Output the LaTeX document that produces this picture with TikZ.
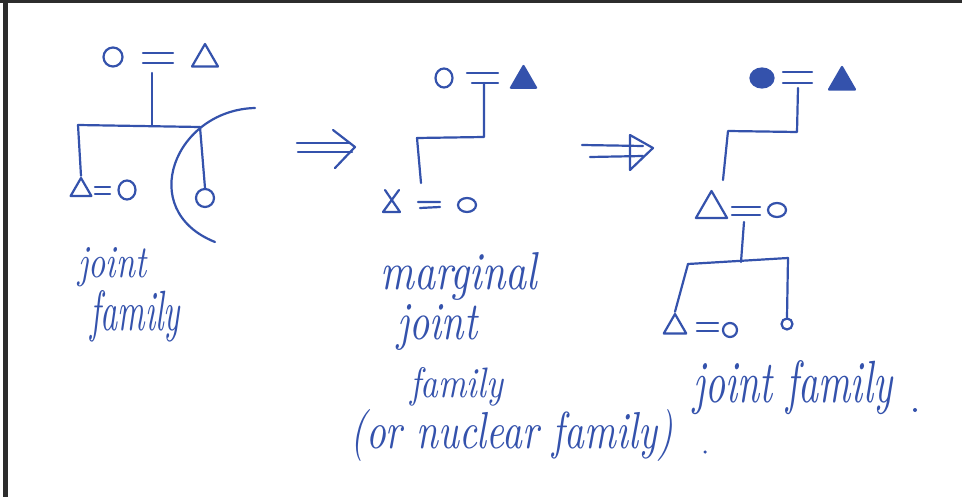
\documentclass[tikz,border=0pt]{standalone}
\usepackage{graphicx}
\usetikzlibrary{shapes.geometric}
\definecolor{pen}{RGB}{52,82,172}
\definecolor{frame}{RGB}{45,45,45}
\newcommand{\handtext}[3]{\resizebox{#1pt}{#2pt}{\itshape #3}}
\begin{document}
\begin{tikzpicture}[x=1pt,y=-1pt,
  ink/.style={draw=pen, line width=2.2pt, line cap=round, line join=round},
  circ/.style={ellipse, draw=pen, line width=2.2pt, inner sep=0pt, minimum width=#1, minimum height=#1},
  tri/.style={regular polygon, regular polygon sides=3, draw=pen, line width=2.2pt, line join=round, inner sep=0pt, minimum size=#1},
  label/.style={text=pen, inner sep=0pt, anchor=base west}]
\useasboundingbox (0,0) rectangle (962,497);
\fill[white] (0,0) rectangle (962,497);
\fill[frame] (0,0) rectangle (962,3);
\fill[frame] (3,0) rectangle (8,497);

% ---------- left: joint family ----------
\node[circ=19pt] (lc) at (113,57) {};
\node[tri=30pt] (lt) at (205,59) {};
\draw[ink] (143,53) -- (173,53) (143,63) -- (173,63);
\coordinate (lu) at (152,73);
\coordinate (lj) at (152,125);
\coordinate (ll) at (78,125);
\coordinate (lr) at (200,127);
\draw[ink] (lu) -- (lj);
\draw[ink] (ll) -- (lr);
\node[tri=24pt] (lbt) at (81,190) {};
\draw[ink] (95,187) -- (110,187) (95,194) -- (110,194);
\node[circ=17pt, minimum height=19pt] (lbc) at (127,190) {};
\node[circ=18pt] (lch) at (205,198) {};
\draw[ink] (ll) -- (lbt.north);
\draw[ink] (lr) -- (lch.north);
\coordinate (arcA) at (255,108);
\coordinate (arcB) at (215,242);
\draw[ink] (arcA) .. controls (175,110) and (135,210) .. (arcB);

\node[label] (lw1) at (78,278) {\handtext{68}{30}{joint}};
\node[label] (lw2) at (90,331) {\handtext{90}{40}{family}};

% ---------- arrow 1 ----------
\coordinate (a1s) at (297,143);
\coordinate (a1e) at (350,143);
\coordinate (a1s2) at (298,152);
\coordinate (a1e2) at (352,152);
\draw[ink] (a1s) -- (a1e) (a1s2) -- (a1e2);
\coordinate (a1t) at (333,130);
\coordinate (a1p) at (355,147);
\coordinate (a1b) at (335,168);
\draw[ink] (a1t) -- (a1p) -- (a1b);

% ---------- middle: marginal joint family ----------
\node[circ=17pt, minimum height=19pt] (mc) at (444,78) {};
\draw[ink] (467,73) -- (498,73) (472,83) -- (498,83);
\node[tri=29pt, fill=pen] (mt) at (523.5,80.5) {};
\coordinate (mu) at (484,83);
\coordinate (mj) at (484,137);
\coordinate (ml) at (417,138);
\coordinate (md) at (421,183);
\draw[ink] (mu) -- (mj) -- (ml) -- (md);
\coordinate (mx1) at (383,212);
\coordinate (mx2) at (400,212);
\coordinate (mx3) at (399,190);
\coordinate (mx4) at (385,190);
\draw[ink] (mx3) -- (mx1) -- (mx2) -- (mx4);
\draw[ink] (418,202) -- (440,202) (420,208) -- (440,207);
\node[circ=18pt, minimum height=14pt] (mbc) at (467,205) {};

\node[label] (mw1) at (380,290) {\handtext{157}{37}{marginal}};
\node[label] (mw2) at (397,340) {\handtext{80}{35}{joint}};
\node[label] (mw3) at (410,397) {\handtext{93}{30}{family}};
\node[label] (mw4) at (350,448) {\handtext{323}{39}{(or nuclear family)}};
\node[circle, fill=pen, inner sep=0pt, minimum size=3.5pt] (dot1) at (705,452) {};

% ---------- arrow 2 ----------
\coordinate (a2s) at (582,145);
\coordinate (a2e) at (643,146);
\coordinate (a2s2) at (590,157);
\coordinate (a2e2) at (643,156);
\draw[ink] (a2s) -- (a2e) (a2s2) -- (a2e2);
\coordinate (a2t) at (630,135);
\coordinate (a2p) at (653,148);
\coordinate (a2b) at (630,170);
\draw[ink] (a2t) -- (a2p) -- (a2b) -- cycle;

% ---------- right: joint family ----------
\node[circ=23pt, minimum height=19pt, fill=pen] (rc) at (762,78) {};
\draw[ink] (783,72) -- (812,72) (783,83) -- (812,83);
\node[tri=30pt, fill=pen] (rt) at (842,82) {};
\coordinate (ru) at (798,88);
\coordinate (rj) at (797,132);
\coordinate (rl) at (728,131);
\coordinate (rd) at (723,180);
\draw[ink] (ru) -- (rj) -- (rl) -- (rd);
\node[tri=36pt] (rmt) at (711.5,209) {};
\draw[ink] (732,207) -- (760,207) (732,215) -- (760,215);
\node[circ=18pt, minimum height=14pt] (rmc) at (777,210) {};
\coordinate (rmu) at (744,222);
\coordinate (rmj) at (741,262);
\coordinate (rml) at (688,264);
\coordinate (rmr) at (788,258);
\draw[ink] (rmu) -- (rmj);
\draw[ink] (rml) -- (rmr);
\node[tri=26pt] (rbt) at (675,327) {};
\draw[ink] (697,323) -- (718,323) (697,331) -- (718,331);
\node[circ=14pt] (rbc) at (730,330) {};
\node[circ=11pt] (rbs) at (787,324) {};
\draw[ink] (rml) -- (rbt.north);
\draw[ink] (rmr) -- (rbs.north);

\node[label] (rw) at (693,402) {\handtext{199}{42}{joint family}};
\node[circle, fill=pen, inner sep=0pt, minimum size=4pt] (dot2) at (915,410) {};
\end{tikzpicture}
\end{document}
